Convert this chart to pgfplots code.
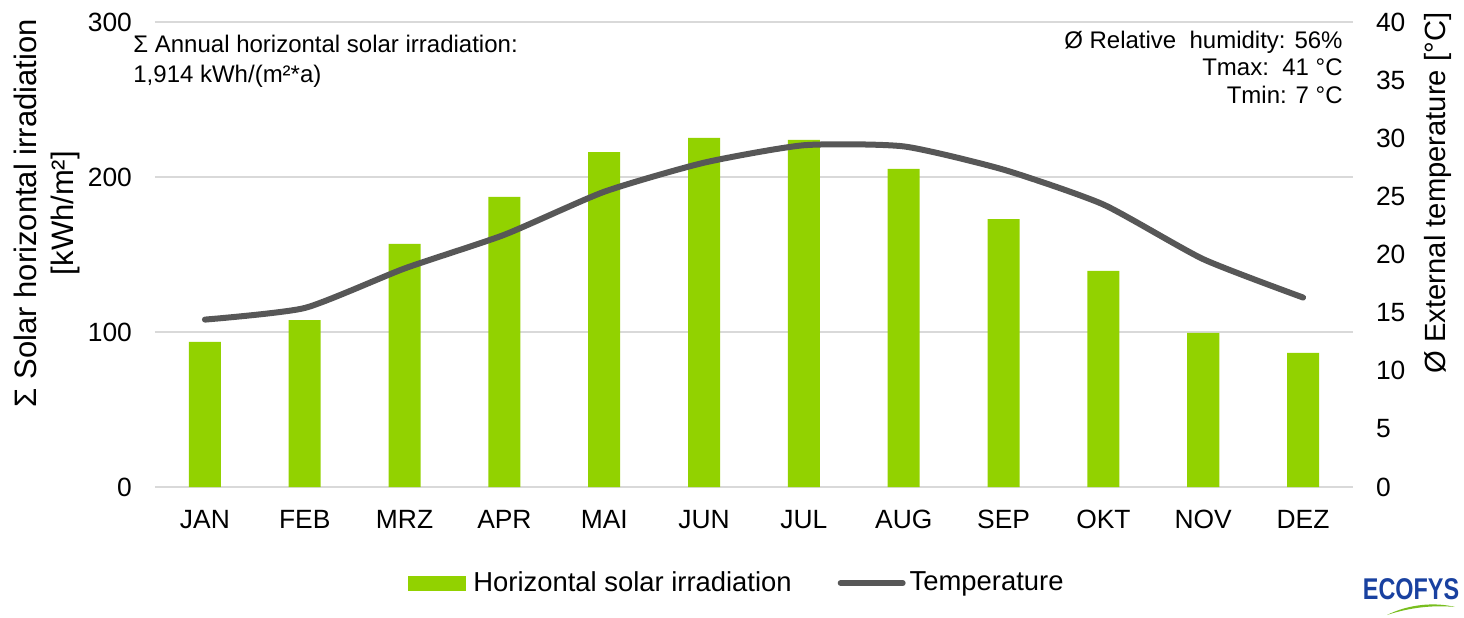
\documentclass[border=0pt]{standalone}
\usepackage{pgfplots}
\pgfplotsset{compat=1.18}
\usepackage{fontspec}
\setmainfont{Liberation Sans}
\definecolor{bargreen}{RGB}{146,210,0}
\definecolor{linegray}{RGB}{87,87,87}
\definecolor{gridgray}{RGB}{217,217,217}
\definecolor{ecoblue}{RGB}{25,65,160}
\definecolor{ecogreen}{RGB}{120,190,30}
\begin{document}
\begin{tikzpicture}
\begin{axis}[
  scale only axis, width=599pt, height=232.5pt,
  xmin=-0.5, xmax=11.5, ymin=0, ymax=300,
  xtick={0,...,11},
  xticklabels={JAN,FEB,MRZ,APR,MAI,JUN,JUL,AUG,SEP,OKT,NOV,DEZ},
  ytick={0,100,200,300},
  axis line style={draw=none},
  major tick length=0pt,
  ymajorgrids, grid style={gridgray, line width=1pt},
  tick label style={font=\fontsize{13.2}{15}\selectfont},
  /pgf/number format/assume math mode=true,
  xticklabel style={yshift=-8pt},
  yticklabel style={xshift=-8pt},
  ylabel={Σ Solar horizontal irradiation\\{[kWh/m²]}},
  every axis y label/.style={at={(rel axis cs:-0.0902,0.589)}, rotate=90, anchor=center, align=center, font=\fontsize{15.5}{18.5}\selectfont},
  legend columns=2,
  legend style={at={(rel axis cs:0.2112,-0.2065)}, anchor=west, draw=none, fill=none, inner sep=0pt,
    font=\fontsize{13.7}{16}\selectfont,
    /tikz/every even column/.append style={column sep=21pt}},
]
\addplot[ybar, bar width=16pt, fill=bargreen, draw=none,
  legend image code/.code={\fill[bargreen] (0pt,-3.75pt) rectangle (29pt,3.75pt);}]
  coordinates {(0,93.7) (1,107.7) (2,156.8) (3,187.1) (4,216.1) (5,225.2) (6,223.9) (7,205.2) (8,172.9) (9,139.4) (10,99.4) (11,86.5)};
\addlegendentry{\hspace{1.5pt}Horizontal solar irradiation}
\addlegendimage{linegray, line width=3pt,
  legend image code/.code={\draw[linegray, line width=3pt, line cap=round] (1.5pt,0pt) -- (32.5pt,0pt);}}
\addlegendentry{Temperature}
\end{axis}
\begin{axis}[
  scale only axis, width=599pt, height=232.5pt,
  xmin=-0.5, xmax=11.5, ymin=0, ymax=40,
  ytick={0,5,...,40},
  axis x line=none, axis y line*=right,
  axis line style={draw=none},
  major tick length=0pt,
  tick label style={font=\fontsize{13.2}{15}\selectfont},
  /pgf/number format/assume math mode=true,
  yticklabel style={xshift=8pt},
  ylabel={Ø External temperature [°C]},
  every axis y label/.style={at={(rel axis cs:1.0710,0.6323)}, rotate=90, anchor=center, font=\fontsize{14.6}{17}\selectfont},
]
\addplot[linegray, line width=3pt, smooth, tension=0.35, line join=round, line cap=round]
  coordinates {(0,14.4) (1,15.4) (2,18.8) (3,21.7) (4,25.4) (5,27.9) (6,29.4) (7,29.3) (8,27.3) (9,24.3) (10,19.6) (11,16.3)};
\end{axis}
\node[anchor=base west, inner sep=0pt, font=\fontsize{12}{14}\selectfont] at (-11pt,217.2pt) {Σ Annual horizontal solar irradiation:};
\node[anchor=base west, inner sep=0pt, font=\fontsize{12}{14}\selectfont] at (-11pt,202.2pt) {1,914 kWh/(m²*a)};
\node[anchor=base east, inner sep=0pt, font=\fontsize{12}{14}\selectfont] at (594pt,219.2pt) {Ø Relative\ \ humidity: 56\%};
\node[anchor=base east, inner sep=0pt, font=\fontsize{12}{14}\selectfont] at (594pt,205.7pt) {Tmax:\ \ 41 °C};
\node[anchor=base east, inner sep=0pt, font=\fontsize{12}{14}\selectfont] at (594pt,191.7pt) {Tmin: 7 °C};
\node[inner sep=0pt, text=ecoblue, font=\fontsize{15}{17}\selectfont\bfseries, xscale=0.78] at (628pt,-51pt) {ECOFYS};
\fill[ecogreen] (616pt,-64pt) .. controls (627pt,-58.5pt) and (640pt,-57.5pt) .. (650pt,-60pt) .. controls (640pt,-59pt) and (628pt,-60pt) .. cycle;
\path[use as bounding box] (-77.5pt,-65pt) rectangle (654.5pt,243.5pt);
\end{tikzpicture}
\end{document}
